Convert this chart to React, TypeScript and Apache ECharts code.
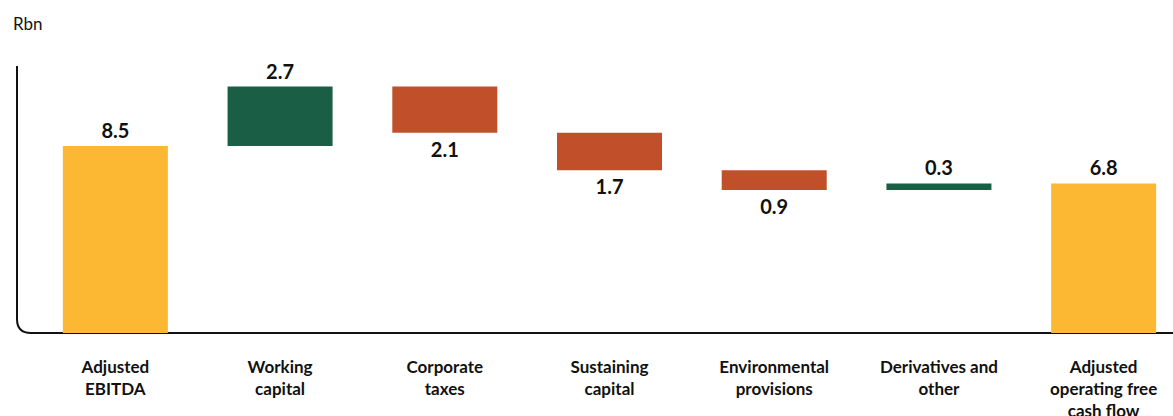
import React, { useEffect, useRef } from "react";
import * as echarts from "echarts";

const categories = [
  "Adjusted\nEBITDA",
  "Working\ncapital",
  "Corporate\ntaxes",
  "Sustaining\ncapital",
  "Environmental\nprovisions",
  "Derivatives and\nother",
  "Adjusted\noperating free\ncash flow",
];
// signed changes; first and last are totals
const deltas = [8.5, 2.7, -2.1, -1.7, -0.9, 0.3, 6.8];
const kinds = ["total", "inc", "dec", "dec", "dec", "inc", "total"];
const unitLabel = "Rbn";

const COLORS: Record<string, string> = {
  total: "#FCB833",
  inc: "#1A5E46",
  dec: "#C1502A",
};

export default function App() {
  const ref = useRef<HTMLDivElement>(null);
  useEffect(() => {
    if (!ref.current) return;
    const chart = echarts.init(ref.current, undefined, { renderer: "svg" });

    const bases: number[] = [];
    const heights: number[] = [];
    let running = 0;
    deltas.forEach((d, i) => {
      if (kinds[i] === "total") {
        bases.push(0);
        heights.push(d);
        running = d;
      } else if (d >= 0) {
        bases.push(running);
        heights.push(d);
        running += d;
      } else {
        running += d;
        bases.push(running);
        heights.push(-d);
      }
    });

    const fontFamily = "Lato, 'Noto Sans', sans-serif";

    echarts.graphic.registerShape(
      "axisframe",
      echarts.graphic.extendPath(
        "M17 66 L17 319 Q17 333 31 333 L1200 333",
        {}
      )
    );

    chart.setOption({
      animation: false,
      grid: {
        left: 33,
        top: 69,
        width: 1153,
        bottom: 83,
        containLabel: false,
        outerBoundsMode: "none",
      },
      xAxis: {
        type: "category",
        data: categories,
        axisLine: { show: false },
        axisTick: { show: false },
        axisLabel: {
          color: "#111",
          fontFamily,
          fontWeight: "bold",
          fontSize: 17,
          lineHeight: 22,
          margin: 22,
          interval: 0,
        },
      },
      yAxis: {
        type: "value",
        min: 0,
        max: 12,
        show: false,
        splitLine: { show: false },
      },
      graphic: [
        {
          type: "axisframe",
          x: 0,
          y: 0,
          silent: true,
          style: { stroke: "#111", lineWidth: 2, fill: "none" },
        },
        {
          type: "text",
          left: 13,
          top: 15,
          style: {
            text: unitLabel,
            font: `17px ${fontFamily}`,
            fill: "#111",
          },
        },
      ],
      series: [
        {
          type: "bar",
          stack: "w",
          data: bases,
          barWidth: 105,
          itemStyle: { color: "transparent" },
          silent: true,
        },
        {
          type: "bar",
          stack: "w",
          barWidth: 105,
          data: heights.map((h, i) => ({
            value: h,
            itemStyle: { color: COLORS[kinds[i]] },
            label: {
              show: true,
              position: deltas[i] < 0 ? "bottom" : "top",
              distance: 6,
              formatter: () => Math.abs(deltas[i]).toFixed(1),
              color: "#111",
              fontFamily,
              fontWeight: "bold",
              fontSize: 20,
            },
          })),
        },
      ],
    });
    return () => chart.dispose();
  }, []);
  return (
    <div
      style={{
        position: "fixed",
        left: 0,
        top: 0,
        width: 1173,
        height: 416,
        overflow: "hidden",
        background: "#fff",
      }}
    >
      <div ref={ref} style={{ width: 1200, height: 416 }} />
    </div>
  );
}
